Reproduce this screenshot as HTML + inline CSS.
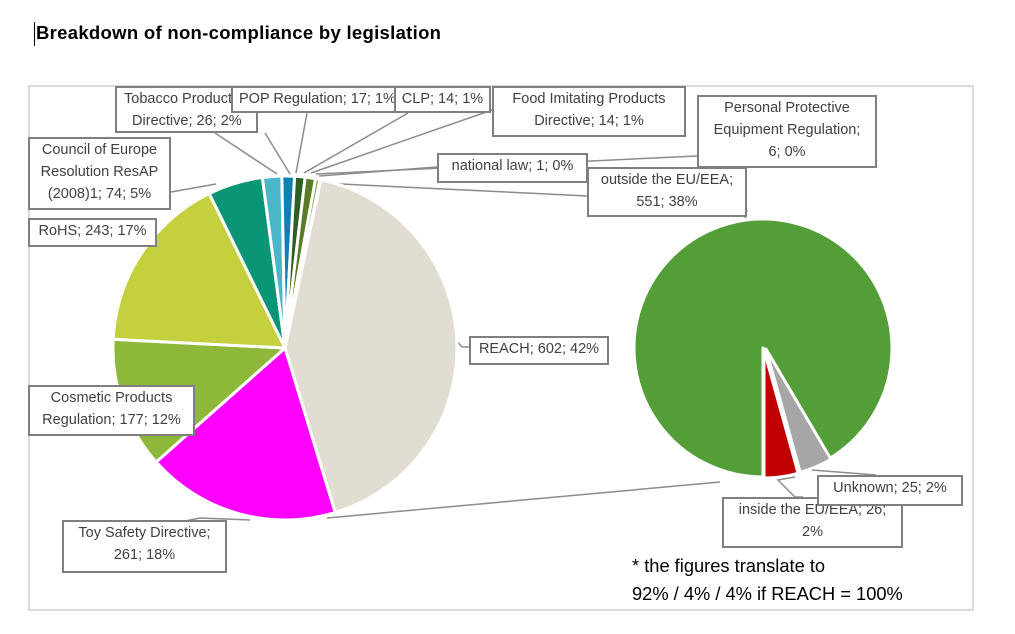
<!DOCTYPE html>
<html><head><meta charset="utf-8"><style>
body{margin:0;background:#fff;width:1015px;height:634px;overflow:hidden;font-family:"Liberation Sans",sans-serif}
.t{position:absolute;left:36px;top:22px;font-weight:bold;font-size:18.5px;color:#000;letter-spacing:0.3px}
.cur{position:absolute;left:34px;top:22px;width:1px;height:24px;background:#000}
.frame{position:absolute;left:28px;top:85px;width:946px;height:526px;border:2px solid #d9d9d9;box-sizing:border-box}
.b{position:absolute;border:2px solid #7f7f7f;background:#fff;color:#404040;font-size:14.5px;line-height:22px;text-align:center;box-sizing:border-box;overflow:hidden;white-space:nowrap}
.fn{position:absolute;left:632px;font-size:18.3px;color:#000}
</style></head><body>
<div class="cur"></div><div class="t">Breakdown of non-compliance by legislation</div>
<div class="frame"></div>
<svg id="s" width="1015" height="634" style="position:absolute;left:0;top:0"></svg>
<div class="b" style="left:115px;top:86px;width:143px;height:47px;text-align:left;padding-left:7px">Tobacco Products<br>&nbsp;&nbsp;Directive; 26; 2%</div>
<div class="b" style="left:231px;top:86px;width:165px;height:27px;text-align:left;padding-left:6px">POP Regulation; 17; 1%</div>
<div class="b" style="left:394px;top:86px;width:97px;height:27px">CLP; 14; 1%</div>
<div class="b" style="left:492px;top:86px;width:194px;height:51px">Food Imitating Products<br>Directive; 14; 1%</div>
<div class="b" style="left:697px;top:95px;width:180px;height:73px">Personal Protective<br>Equipment Regulation;<br>6; 0%</div>
<div class="b" style="left:28px;top:137px;width:143px;height:73px">Council of Europe<br>Resolution ResAP<br>(2008)1; 74; 5%</div>
<div class="b" style="left:28px;top:218px;width:129px;height:29px">RoHS; 243; 17%</div>
<div class="b" style="left:437px;top:153px;width:151px;height:30px">national law; 1; 0%</div>
<div class="b" style="left:587px;top:167px;width:160px;height:50px">outside the EU/EEA;<br>551; 38%</div>
<div class="b" style="left:469px;top:336px;width:140px;height:29px">REACH; 602; 42%</div>
<div class="b" style="left:28px;top:385px;width:167px;height:51px">Cosmetic Products<br>Regulation; 177; 12%</div>
<div class="b" style="left:62px;top:520px;width:165px;height:53px">Toy Safety Directive;<br>261; 18%</div>
<div class="b" style="left:722px;top:497px;width:181px;height:51px">inside the EU/EEA; 26;<br>2%</div>
<div class="b" style="left:817px;top:475px;width:146px;height:31px">Unknown; 25; 2%</div>
<div class="fn" style="top:555px">* the figures translate to</div>
<div class="fn" style="top:583px">92% / 4% / 4% if REACH = 100%</div>
<script>
var s=document.getElementById('s'),NS='http://www.w3.org/2000/svg';
function el(n,a){var e=document.createElementNS(NS,n);for(var k in a)e.setAttribute(k,a[k]);s.appendChild(e);return e}
function pt(cx,cy,r,a){a=a*Math.PI/180;return [cx+r*Math.sin(a),cy-r*Math.cos(a)]}
function slice(cx,cy,r,a0,a1,c){var p=pt(cx,cy,r,a0),q=pt(cx,cy,r,a1);
el('path',{d:'M'+cx+','+cy+'L'+p[0]+','+p[1]+'A'+r+','+r+' 0 '+((a1-a0)>180?1:0)+' 1 '+q[0]+','+q[1]+'Z',fill:c,stroke:'#fff','stroke-width':3,'stroke-linejoin':'round'})}
var L=[[[321,180],[462,347],[469,347]],[[327,518],[720,482]],[[250,520],[200,518],[180,522]],[[148,440],[195,411]],[[320,183],[588,196]],
[[216,184],[171,192]],[[277,174],[215,133]],[[290,174],[265,133]],[[296,173],[307,113]],[[304,173],[408,113]],[[311,173],[492,110]],[[316,174],[697,156]],[[319,176],[437,167]]];
L.forEach(function(l){el('polyline',{points:l.map(function(p){return p.join(',')}).join(' '),fill:'none',stroke:'#8c8c8c','stroke-width':1.5})});
var d=[[602,'#e2ddd2'],[261,'#ff00ff'],[177,'#8db83a'],[243,'#c4d03e'],[74,'#0a9577'],[26,'#4bb6c8'],[17,'#1080b0'],[14,'#2e5f22'],[14,'#5a7a26'],[6,'#8aa048'],[1,'#c8c87a']];
var tot=1435,a=12;
d.forEach(function(x){var e=a+x[0]/tot*360;slice(285,348,172,a,e,x[1]);a=e});
slice(763,348,129,180,180+329.4,'#549e39');
slice(764,350,128,164.5,180,'#c00000');
slice(766,349,128,149.5,164.5,'#a6a6a6');
el('polyline',{points:'795,477 778,480 795,497 803,497',fill:'none',stroke:'#8c8c8c','stroke-width':1.5});
el('polyline',{points:'812,470 876,475',fill:'none',stroke:'#8c8c8c','stroke-width':1.5});
el('polyline',{points:'747,210 745,218',fill:'none',stroke:'#8c8c8c','stroke-width':1.5});
</script>
</body></html>
